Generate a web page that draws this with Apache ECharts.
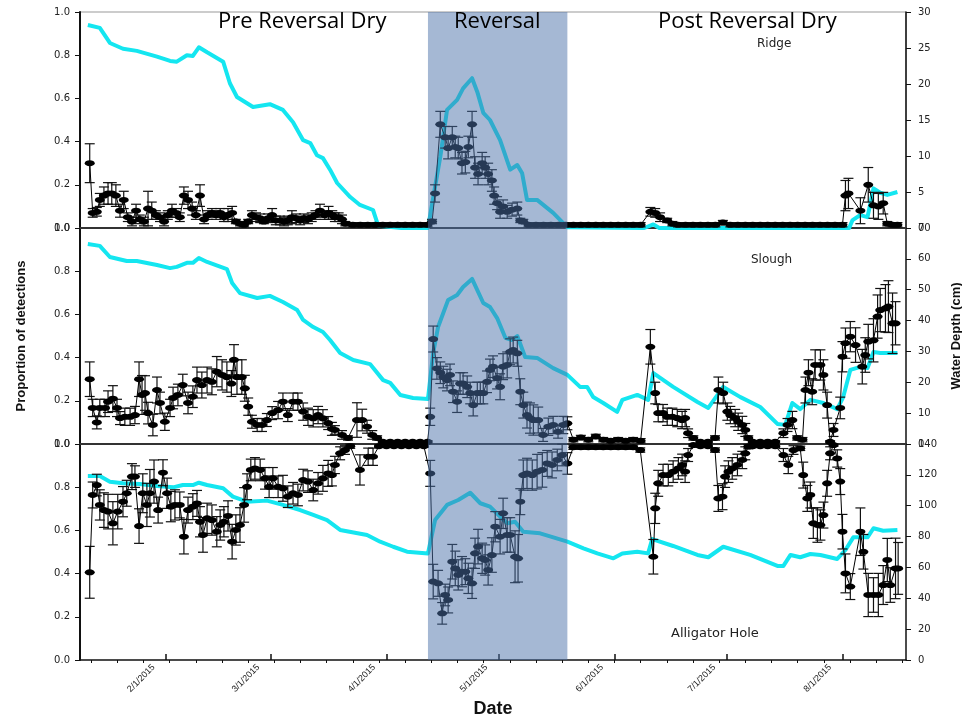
<!DOCTYPE html>
<html><head><meta charset="utf-8">
<script src="https://cdn.jsdelivr.net/npm/echarts@6/dist/echarts.min.js"></script>
<style>html,body{margin:0;padding:0;background:#fff}#c{width:962px;height:719px}</style>
</head><body><div id="c"></div>
<script>
// ---- Data (x = day of year 2015) ----
// Ridge: [day, proportion, error]
const ridgeObs = [
[11.6,.30,.09],[12.4,.07,.02],[13.5,.075,.02],[14.3,.13,.03],[15.4,.15,.04],[16.5,.16,.05],[17.5,.16,.05],[18.6,.15,.05],[19.7,.08,.03],[20.7,.13,.04],
[21.8,.05,.02],[22.9,.03,.02],[24.0,.08,.03],[25.0,.04,.02],[26.1,.03,.02],[27.2,.09,.08],[28.2,.08,.04],[29.3,.06,.02],[30.4,.05,.02],[31.5,.03,.02],
[32.5,.06,.02],[33.6,.08,.03],[34.7,.07,.02],[35.7,.05,.02],[36.8,.15,.04],[37.9,.13,.04],[39.0,.09,.03],[40.0,.06,.02],[41.1,.15,.05],[42.2,.04,.02],
[43.2,.06,.02],[44.3,.07,.02],[45.4,.06,.02],[46.5,.07,.02],[47.5,.05,.02],[48.6,.06,.03],[49.7,.07,.03],[50.7,.03,.01],[51.8,.02,.01],[52.9,.015,.01],
[54.0,.03,.01],[55.0,.06,.02],[56.1,.05,.02],[57.2,.045,.02],[58.2,.03,.01],[59.3,.045,.02],[60.4,.06,.03],[61.4,.035,.02],[62.5,.035,.02],[63.6,.03,.02],
[64.6,.035,.02],[65.7,.05,.03],[66.8,.045,.02],[67.9,.035,.02],[68.9,.045,.02],[70,.04,.02],[71,.05,.02],[72,.06,.02],[73.2,.08,.03],[74.5,.06,.02],
[75.5,.07,.03],[76.5,.06,.02],[77.2,.05,.02],[78.2,.05,.02],[79.1,.04,.02],[80,.02,.01],
[82,.015,.01],[84,.015,.01],[86,.015,.01],[88,.015,.01],[90,.015,.01],[92,.015,.01],[94,.015,.01],[96,.015,.01],[98,.015,.01],[100,.015,.01],[102,.015,.01],
[103.2,.03,.01],[104.0,.16,.04],[105.4,.48,.06],[106.7,.42,.05],[107.5,.37,.05],[108.6,.42,.05],[109.4,.375,.05],[110.2,.37,.05],[111.2,.30,.05],[112.1,.305,.05],
[112.9,.375,.05],[113.9,.48,.06],[114.7,.28,.05],[115.5,.25,.05],[116.6,.30,.05],[117.4,.28,.05],[118.2,.25,.05],[119.2,.22,.05],[119.8,.15,.04],[120.6,.115,.03],
[121.4,.075,.03],[122.2,.10,.03],[123.3,.075,.03],[124.6,.085,.03],[126.0,.09,.03],[126.8,.035,.01],[127.6,.03,.01],
[129,.015,.01],[131,.015,.01],[133,.015,.01],[135,.015,.01],[137,.015,.01],[139,.015,.01],[141,.015,.01],[143,.015,.01],[145,.015,.01],[147,.015,.01],
[149,.015,.01],[151,.015,.01],[153,.015,.01],[155,.015,.01],[157,.015,.01],[159,.015,.01],
[161.6,.075,.02],[162.9,.07,.02],[164.2,.05,.02],[166.1,.035,.01],[167.5,.02,.01],
[169,.015,.01],[171,.015,.01],[173,.015,.01],[175,.015,.01],[177,.015,.01],[179,.015,.01],[181,.025,.01],[183,.015,.01],[185,.015,.01],[187,.015,.01],
[189,.015,.01],[191,.015,.01],[193,.015,.01],[195,.015,.01],[197,.015,.01],[199,.015,.01],[201,.015,.01],[203,.015,.01],[205,.015,.01],[207,.015,.01],
[209,.015,.01],[211,.015,.01],[213,.015,.01],
[213.8,.15,.07],[214.6,.16,.07],[217.8,.08,.06],[219.9,.20,.08],[221.3,.105,.06],[222.6,.10,.06],[223.9,.115,.05],[225.0,.02,.01],[226.4,.015,.01],[227.7,.015,.01]
];
// Ridge water depth (cm): [day, depth]
const ridgeDepth = [
[11.1,28.2],[14.3,27.8],[17.0,25.7],[20.5,24.9],[24.2,24.6],[29.6,23.8],[33.1,23.2],[34.9,23.1],[37.6,24.0],[39.2,23.9],[40.8,25.1],[43.0,24.4],
[47.3,23.1],[49.1,20.1],[51.0,18.2],[55.3,16.8],[59.8,17.2],[63.3,16.4],[66.0,14.7],[68.7,12.2],[70.6,11.8],[72.4,10.1],[74.0,9.7],[75.9,8.1],
[77.8,6.25],[81.3,4.3],[83.9,3.2],[87.4,2.5],[88.8,0.3],[95,0],[102.1,0],
[104.0,5.7],[105.4,9.9],[107.2,16.4],[109.9,17.8],[111.5,19.4],[113.9,20.8],[115.3,18.9],[116.9,16.0],[118.7,15.0],[121.4,12.2],[124.1,8.1],
[126.0,8.75],[127.3,7.6],[128.6,3.9],[131.3,3.9],[135.6,2.1],[139.4,0.1],[160,0],[162.4,0.5],[164,0],[214.8,0],
[215.7,1.1],[217.8,1.8],[219.7,1.5],[221.3,5.5],[223.1,4.9],[225.0,4.6],[227.7,5.0]
];
// Slough
const sloughObs = [
[11.6,.30,.08],[12.4,.167,.04],[13.5,.10,.03],[14.3,.167,.04],[15.7,.167,.04],[16.5,.196,.05],[17.8,.21,.06],[18.9,.167,.04],[19.7,.12,.03],[21.0,.126,.04],
[22.4,.126,.04],[23.7,.134,.04],[24.8,.30,.08],[25.6,.227,.09],[26.4,.236,.08],[27.2,.143,.05],[28.5,.088,.05],[29.6,.25,.06],[30.4,.19,.05],[31.7,.103,.04],
[33.1,.167,.04],[33.9,.213,.05],[35.2,.227,.05],[36.5,.273,.05],[37.9,.19,.05],[39.2,.219,.05],[40.3,.296,.06],[41.6,.273,.06],[43.0,.296,.06],[44.3,.288,.06],
[45.6,.335,.07],[47.0,.32,.07],[48.3,.31,.07],[49.5,.28,.06],[50.2,.39,.07],[51.0,.31,.08],[52.3,.31,.08],[53.1,.258,.06],[54.0,.173,.04],[55.0,.103,.03],
[56.4,.088,.03],[57.7,.088,.03],[59.0,.111,.03],[60.4,.143,.03],[62.0,.157,.04],[63.3,.196,.04],[64.6,.134,.03],[66.0,.196,.04],[67.3,.196,.04],[68.7,.15,.04],
[70.0,.126,.04],[71.4,.119,.04],[72.7,.134,.04],[74.0,.119,.04],[75.4,.097,.03],[76.4,.07,.03],[77.2,.065,.02],[79.1,.042,.02],[80.7,.028,.01],[83.1,.111,.08],
[84.5,.111,.05],[85.8,.08,.03],[87.2,.042,.02],[88.5,.028,.01],
[90,.01,.005],[92,.01,.005],[94,.01,.005],[96,.01,.005],[98,.01,.005],[100,.01,.005],[102,.01,.005],
[102.7,.126,.04],[103.5,.486,.06],[104.5,.35,.05],[105.4,.33,.05],[106.2,.31,.05],[107.2,.296,.05],[108.0,.32,.05],[108.8,.242,.05],[109.9,.196,.05],[110.7,.28,.05],
[111.5,.28,.05],[112.6,.265,.05],[113.4,.236,.05],[114.2,.18,.05],[115.3,.236,.05],[116.1,.236,.05],[116.9,.236,.05],[117.9,.288,.05],[118.7,.343,.05],[119.5,.358,.05],
[120.6,.305,.05],[121.4,.265,.06],[122.2,.358,.06],[123.3,.366,.06],[124.1,.427,.06],[124.9,.435,.06],[126.0,.42,.06],[126.8,.242,.06],[127.6,.18,.06],[128.6,.134,.06],
[129.4,.12,.07],[130.3,.111,.07],[131.6,.111,.06],[132.9,.042,.03],[134.3,.08,.04],[135.6,.088,.04],[136.9,.057,.03],[138.3,.088,.04],[139.4,.096,.03],
[141,.02,.01],[143,.03,.01],[145,.02,.01],[147,.035,.01],[149,.02,.01],[151,.015,.01],[153,.02,.01],[155,.015,.01],[157,.02,.01],[159,.015,.01],
[161.6,.45,.08],[162.9,.236,.05],[163.7,.143,.04],[165.0,.143,.04],[166.1,.126,.04],[167.5,.126,.04],[168.8,.12,.04],[170.1,.111,.04],[170.9,.12,.04],[171.7,.05,.02],
[173.1,.028,.01],[175,.01,.005],[177,.01,.005],[178.9,.028,.01],[179.8,.25,.06],[181.1,.236,.05],[182.2,.15,.04],[183.0,.134,.04],[184.3,.12,.04],[185.1,.103,.04],
[186.2,.088,.04],[187.0,.065,.03],[187.8,.028,.01],[189,.01,.005],[191,.01,.005],[193,.01,.005],[195,.01,.005],[197.2,.05,.02],[198.3,.088,.03],[199.6,.111,.04],
[200.9,.028,.01],[202.3,.02,.01],[203.1,.25,.06],[203.9,.33,.06],[204.9,.242,.06],[205.7,.366,.07],[207.1,.366,.07],[207.9,.32,.07],[208.9,.18,.06],[209.7,.01,.005],
[210.6,.065,.03],[212.4,.167,.05],[213.0,.404,.07],[213.8,.467,.07],[215.1,.497,.07],[216.5,.458,.08],[218.3,.358,.08],[219.1,.412,.08],[219.9,.474,.08],[221.3,.48,.1],
[222.4,.59,.1],[223.1,.62,.1],[224.5,.628,.11],[225.3,.636,.12],[226.4,.559,.14],[227.2,.559,.1]
];
const sloughDepth = [
[11.1,64.8],[14.3,64.2],[17.0,60.6],[21.5,59.3],[24.2,59.3],[29.6,58.0],[33.1,57.0],[34.9,57.4],[37.6,58.7],[39.2,58.7],[40.8,60.3],[43.0,59.0],
[48.3,56.7],[49.7,52.2],[51.8,48.9],[56.4,47.3],[59.8,48.0],[63.3,46.0],[67.1,43.4],[68.7,40.2],[71.4,37.9],[74.0,36.3],[75.9,33.7],
[78.6,29.5],[82.1,27.2],[86.6,25.9],[90.1,20.7],[92.0,19.8],[94.7,15.9],[98.1,14.9],[102.1,14.6],
[103.5,29.5],[104.8,37.9],[107.5,46.7],[109.9,48.3],[111.5,50.9],[113.9,53.5],[115.3,49.9],[116.9,45.7],[118.7,44.4],[120.6,40.8],[122.8,34.4],
[124.6,33.7],[126.0,35.0],[128.1,28.2],[131.3,27.9],[135.6,24.6],[139.4,22.4],[142.8,18.5],[144.7,18.5],[146.3,15.2],[149.0,13.3],[152.7,10.4],
[154.1,14.3],[158.1,15.9],[161.0,14.3],[162.4,23.0],[167.7,18.5],[174.2,13.6],[177.1,11.7],[181.1,18.5],[185.7,15.2],[191.0,12.0],[195.6,6.5],
[197.7,6.2],[199.6,13.3],[201.7,11.3],[204.4,14.3],[207.9,13.3],[211.6,11.3],[213.2,15.2],[215.1,24.0],[217.8,25.0],[219.7,24.6],[221.3,29.8],
[223.1,29.5],[227.7,29.5]
];
// Alligator Hole
const holeObs = [
[11.6,.406,.12],[12.4,.764,.06],[13.5,.81,.05],[14.3,.718,.07],[15.4,.694,.08],[16.5,.687,.08],[17.8,.633,.1],[19.1,.687,.08],[20.5,.733,.07],[21.5,.772,.06],
[22.9,.849,.06],[23.7,.849,.05],[24.8,.62,.08],[25.8,.772,.09],[26.9,.718,.1],[27.7,.772,.11],[28.8,.826,.1],[29.9,.694,.06],[31.2,.867,.06],[32.3,.772,.07],
[33.3,.71,.07],[34.4,.718,.07],[35.7,.718,.06],[36.8,.571,.08],[37.9,.694,.06],[39.2,.71,.06],[40.3,.725,.06],[41.1,.64,.07],[41.9,.579,.08],[43.0,.656,.07],
[44.3,.648,.07],[45.6,.594,.07],[46.5,.625,.07],[47.5,.64,.07],[48.6,.667,.07],[49.7,.548,.08],[50.7,.602,.07],[51.8,.625,.08],[52.9,.718,.08],[53.7,.802,.06],
[54.7,.88,.05],[55.8,.887,.05],[57.2,.88,.05],[58.5,.841,.05],[59.6,.802,.05],[60.6,.841,.05],[62.0,.802,.05],[63.3,.795,.06],[64.6,.756,.05],[66.0,.772,.05],
[67.3,.764,.05],[68.7,.833,.05],[70.0,.826,.05],[71.4,.787,.05],[72.7,.818,.05],[74.0,.841,.06],[75.4,.864,.06],[76.4,.856,.05],[77.2,.903,.04],[78.6,.957,.03],
[79.9,.972,.02],[81.3,.99,.01],[83.9,.88,.07],[86.1,.941,.04],[87.4,.941,.04],
[89,.99,.005],[91,.99,.005],[93,.99,.005],[95,.99,.005],[97,.99,.005],[99,.99,.005],[101,.99,.005],
[102.7,.864,.06],[103.5,.363,.08],[104.8,.355,.06],[105.9,.216,.05],[106.7,.301,.05],[107.5,.278,.06],[108.6,.455,.08],[109.4,.424,.08],[110.2,.394,.07],[111.2,.409,.07],
[112.1,.409,.06],[112.9,.378,.07],[113.9,.355,.07],[114.7,.494,.07],[115.5,.525,.08],[116.6,.471,.07],[117.4,.463,.07],[118.2,.417,.07],[119.2,.486,.08],[120.1,.617,.07],
[121.4,.571,.08],[122.2,.679,.07],[123.3,.579,.08],[124.1,.579,.08],[125.4,.478,.12],[126.2,.471,.11],[126.8,.733,.06],[127.6,.856,.07],[128.6,.864,.07],[130.0,.856,.07],
[131.3,.872,.08],[132.7,.88,.08],[134.0,.91,.06],[135.3,.903,.06],[136.7,.926,.05],[138.0,.949,.05],[139.4,.91,.05],
[141,.985,.01],[143,.985,.01],[145,.985,.01],[147,.985,.01],[149,.985,.01],[151,.985,.01],[153,.985,.01],[155,.985,.01],[157,.985,.01],[158.9,.972,.01],
[162.4,.478,.08],[162.9,.702,.07],[163.7,.818,.06],[165.0,.856,.05],[166.4,.856,.05],[167.7,.872,.05],[169.1,.887,.05],[170.1,.903,.05],[170.9,.872,.05],[171.7,.949,.03],
[173.1,.995,.005],[175,.99,.005],[177,.99,.005],[178.9,.972,.01],[179.8,.748,.06],[180.9,.756,.06],[181.6,.849,.05],[182.5,.872,.05],[183.5,.887,.05],[184.9,.903,.05],
[186.2,.926,.04],[187.0,.957,.03],[187.8,.988,.01],[189,.99,.005],[191,.99,.005],[193,.99,.005],[195,.99,.005],[197.2,.949,.03],[198.5,.903,.04],[199.9,.972,.02],
[201.7,.98,.01],[202.5,.856,.06],[203.6,.748,.06],[204.4,.764,.06],[205.2,.633,.07],[206.3,.625,.08],[207.1,.625,.07],[207.9,.671,.06],[208.9,.818,.06],[209.7,.957,.03],
[210.6,.995,.005],[211.6,.933,.04],[212.4,.826,.06],[213.0,.594,.08],[213.8,.401,.09],[215.1,.34,.06],[217.8,.594,.11],[218.6,.501,.08],[219.9,.301,.1],[221.3,.301,.08],
[222.6,.301,.1],[223.9,.347,.09],[225.0,.463,.1],[225.8,.347,.08],[227.2,.424,.14],[227.9,.424,.12]
];
const holeDepth = [
[11.1,119.3],[14.3,119.3],[17.0,115.6],[20.5,114.5],[25.0,114.1],[29.6,112.8],[33.9,111.9],[36.5,113.4],[39.2,113.4],[40.8,114.9],[43.0,113.4],
[47.3,111.3],[49.9,105.9],[53.7,102.6],[59.0,103.3],[63.3,100.5],[67.9,97.2],[71.4,94.0],[75.1,90.7],[78.6,84.3],[85.8,81.0],[89.3,76.7],
[92.8,73.4],[96.5,70.2],[102.1,69.1],[104.0,90.7],[107.2,100.5],[110.2,103.7],[113.4,108.4],[116.1,101.6],[118.7,99.4],[121.4,92.9],[123.3,88.6],
[125.4,89.6],[127.6,83.1],[132.1,82.1],[139.4,76.7],[143.7,72.4],[147.4,69.1],[151.7,65.9],[154.1,69.1],[158.1,70.2],[161.0,69.1],[162.1,78.4],
[167.7,73.9],[174.2,68.1],[177.1,66.6],[181.1,73.4],[188.3,68.1],[195.6,61.0],[197.2,61.0],[199.1,68.1],[201.7,66.6],[204.4,68.7],[207.1,68.1],
[211.6,65.5],[213.8,71.3],[215.9,79.5],[219.7,79.5],[221.3,85.4],[223.9,83.8],[227.7,84.3]
];

const panelNames = ['Ridge', 'Slough', 'Alligator Hole'];
const periodNames = ['Pre Reversal Dry', 'Reversal', 'Post Reversal Dry'];
const reversalSpan = [102.1, 139.4];
const depthMax = [30, 70, 140];
const depthStep = [5, 10, 20];
const monthTicks = [32, 60, 91, 121, 152, 182, 213];
const weekTicks = [12,19,26,33,40,47,54,61,68,75,82,89,96,103,110,117,124,131,138,145,152,159,166,173,180,187,194,201,208,215,222,229];
const xMin = 9, xMax = 230;
const labelShift = 3.3;

// ---- Chart ----
const obsSets = [ridgeObs, sloughObs, holeObs];
const depthSets = [ridgeDepth, sloughDepth, holeDepth];
const tops = [12, 228, 444];
const H = 216;
const CYAN = '#14e6f0';

function fmtDate(v) {
  const d = Math.round(v + labelShift);
  const dt = new Date(Date.UTC(2015, 0, d));
  return (dt.getUTCMonth() + 1) + '/' + dt.getUTCDate() + '/2015';
}

const grid = tops.map((t, i) => ({
  left: 80, right: 56, top: t, height: H,
  containLabel: false, outerBoundsMode: 'none',
  show: i === 0, borderColor: '#999', borderWidth: 1
}));

const xAxis = [0, 1, 2].map(i => ({
  gridIndex: i, type: 'value', min: xMin, max: xMax,
  axisLine: { show: true, onZero: false, lineStyle: { color: i < 2 ? '#333' : '#111', width: i < 2 ? 2 : 1.5 } },
  axisTick: i < 2 ? { show: false } : { show: true, customValues: weekTicks, length: 3, lineStyle: { color: '#111' } },
  axisLabel: i < 2 ? { show: false } : {
    show: true, customValues: monthTicks.map(d => d - labelShift), rotate: 45,
    formatter: fmtDate, fontSize: 9, color: '#222', margin: 6, fontFamily: 'Liberation Sans'
  },
  splitLine: { show: false },
  name: i === 2 ? 'Date' : '',
  nameLocation: 'middle', nameGap: 40,
  nameTextStyle: { fontSize: 18, fontWeight: 'bold', fontFamily: 'Liberation Sans', color: '#111' }
}));
xAxis.push({
  gridIndex: 2, type: 'value', min: xMin, max: xMax,
  axisLine: { show: false }, axisLabel: { show: false }, splitLine: { show: false },
  axisTick: { show: true, customValues: monthTicks, length: 6, lineStyle: { color: '#111', width: 1.5 } }
});

const yAxis = [];
[0, 1, 2].forEach(i => {
  yAxis.push({
    gridIndex: i, type: 'value', position: 'left', min: 0, max: 1, interval: 0.2,
    axisLine: { show: true, onZero: false, lineStyle: { color: '#111', width: 2 } },
    axisTick: { show: true, length: 5, lineStyle: { color: '#111' } },
    axisLabel: { formatter: v => v.toFixed(1), fontSize: 10, color: '#222', margin: 10, fontFamily: 'DejaVu Sans' },
    splitLine: { show: false },
    name: i === 1 ? 'Proportion of detections' : '',
    nameLocation: 'middle', nameGap: 52, nameRotate: 90,
    nameTextStyle: { fontSize: 13, fontWeight: 'bold', fontFamily: 'Liberation Sans', color: '#111' }
  });
  yAxis.push({
    gridIndex: i, type: 'value', position: 'right', min: 0, max: depthMax[i], interval: depthStep[i],
    axisLine: { show: true, onZero: false, lineStyle: { color: '#111', width: 1.5 } },
    axisTick: { show: true, length: 5, lineStyle: { color: '#111' } },
    axisLabel: { fontSize: 10, color: '#222', margin: 12, fontFamily: 'DejaVu Sans' },
    splitLine: { show: false },
    name: i === 1 ? 'Water Depth (cm)' : '',
    nameLocation: 'middle', nameGap: 44, nameRotate: 90,
    nameTextStyle: { fontSize: 13, fontWeight: 'bold', fontFamily: 'Liberation Sans', color: '#111' }
  });
});

function errRender(params, api) {
  const x = api.value(0), v = api.value(1), e = api.value(2);
  const hi = api.coord([x, Math.min(1, v + e)]);
  const lo = api.coord([x, Math.max(0, v - e)]);
  const hw = 5;
  const st = { stroke: '#111', lineWidth: 1.2 };
  return { type: 'group', children: [
    { type: 'line', shape: { x1: hi[0], y1: hi[1], x2: lo[0], y2: lo[1] }, style: st },
    { type: 'line', shape: { x1: hi[0] - hw, y1: hi[1], x2: hi[0] + hw, y2: hi[1] }, style: st },
    { type: 'line', shape: { x1: lo[0] - hw, y1: lo[1], x2: lo[0] + hw, y2: lo[1] }, style: st }
  ]};
}
function shadeRender(params, api) {
  const a = api.coord([api.value(0), 1]);
  const b = api.coord([api.value(1), 0]);
  return { type: 'rect', shape: { x: a[0], y: a[1], width: b[0] - a[0], height: b[1] - a[1] },
    style: { fill: 'rgba(76,114,170,0.5)' } };
}

const series = [];
[0, 1, 2].forEach(i => {
  series.push({
    type: 'line', xAxisIndex: i, yAxisIndex: 2 * i + 1, data: depthSets[i],
    showSymbol: false, symbol: 'none', lineStyle: { color: CYAN, width: 4, join: 'round' }, z: 2
  });
  series.push({
    type: 'custom', xAxisIndex: i, yAxisIndex: 2 * i, data: obsSets[i],
    encode: { x: 0, y: 1 }, renderItem: errRender, z: 3
  });
  series.push({
    type: 'line', xAxisIndex: i, yAxisIndex: 2 * i, data: obsSets[i].map(r => [r[0], r[1]]),
    symbol: 'circle', symbolSize: [10, 6], showAllSymbol: true,
    itemStyle: { color: '#000' }, lineStyle: { color: '#000', width: 1 }, z: 4
  });
  series.push({
    type: 'custom', xAxisIndex: i, yAxisIndex: 2 * i, data: [[reversalSpan[0], reversalSpan[1], 0, 1]],
    encode: { x: [0, 1], y: [2, 3] }, renderItem: shadeRender, z: 10, silent: true
  });
});

const titleFont = { fontFamily: 'Open Sans', fontSize: 22, fontWeight: 'normal', color: '#000' };
const labelFont = { fontFamily: 'DejaVu Sans', fontSize: 12, fontWeight: 'normal', color: '#222' };
const title = [
  { text: periodNames[0], left: 213, top: 6, textStyle: titleFont, z: 20 },
  { text: periodNames[1], left: 449, top: 6, textStyle: titleFont, z: 20 },
  { text: periodNames[2], left: 653, top: 6, textStyle: titleFont, z: 20 },
  { text: panelNames[0], left: 752, top: 33, textStyle: labelFont, z: 20 },
  { text: panelNames[1], left: 746, top: 249, textStyle: labelFont, z: 20 },
  { text: panelNames[2], left: 666, top: 622, textStyle: Object.assign({}, labelFont, { fontSize: 13 }), z: 20 }
];

const chart = echarts.init(document.getElementById('c'));
chart.setOption({ animation: false, backgroundColor: '#fff', title, grid, xAxis, yAxis, series });
</script></body></html>
